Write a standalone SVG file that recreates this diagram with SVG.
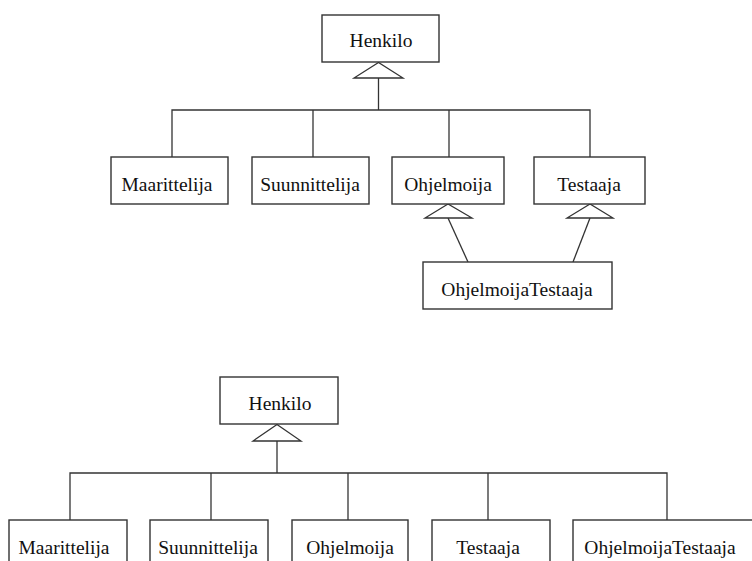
<svg xmlns="http://www.w3.org/2000/svg" width="752" height="561" viewBox="0 0 752 561">
  <style>
    .box { fill: #fff; stroke: #333; stroke-width: 1.4; }
    .lbl { font-family: "Liberation Serif", "Times New Roman", serif; font-size: 19.5px; fill: #111; text-anchor: middle; }
    .edge { fill: none; stroke: #333; stroke-width: 1.3; }
    .tri { fill: #fff; stroke: #333; stroke-width: 1.3; }
  </style>
  <rect width="752" height="561" fill="#fff"/>

  <!-- Upper model: multiple inheritance -->
  <g id="connectors-top">
    <polyline class="edge" points="378.5,78 378.5,110"/>
    <polyline class="edge" points="172,157 172,110 590,110 590,157"/>
    <line class="edge" x1="313" y1="110" x2="313" y2="157"/>
    <line class="edge" x1="449" y1="110" x2="449" y2="157"/>
    <polygon class="tri" points="378.5,62.5 354,78 403,78"/>
    <line class="edge" x1="448" y1="218" x2="468" y2="262"/>
    <line class="edge" x1="590" y1="218" x2="573" y2="262"/>
    <polygon class="tri" points="448,204 425,218 472,218"/>
    <polygon class="tri" points="590,204 567,218 613,218"/>
  </g>
  <g id="top-henkilo"><rect class="box" x="322" y="15" width="117" height="47"/><text class="lbl" x="381" y="47">Henkilo</text></g>
  <g id="top-maarittelija"><rect class="box" x="111" y="157" width="117" height="47"/><text class="lbl" x="167" y="191">Maarittelija</text></g>
  <g id="top-suunnittelija"><rect class="box" x="252" y="157" width="117" height="47"/><text class="lbl" x="310" y="191">Suunnittelija</text></g>
  <g id="top-ohjelmoija"><rect class="box" x="392" y="157" width="112" height="47"/><text class="lbl" x="448" y="191">Ohjelmoija</text></g>
  <g id="top-testaaja"><rect class="box" x="534" y="157" width="111" height="47"/><text class="lbl" x="589" y="191">Testaaja</text></g>
  <g id="top-ohjelmoijatestaaja"><rect class="box" x="423" y="262" width="189" height="47"/><text class="lbl" x="517" y="296">OhjelmoijaTestaaja</text></g>

  <!-- Lower model: single inheritance -->
  <g id="connectors-bottom">
    <polyline class="edge" points="277,441 277,473"/>
    <polyline class="edge" points="70,520 70,473 667,473 667,520"/>
    <line class="edge" x1="211" y1="473" x2="211" y2="520"/>
    <line class="edge" x1="348" y1="473" x2="348" y2="520"/>
    <line class="edge" x1="488" y1="473" x2="488" y2="520"/>
    <polygon class="tri" points="277,424.5 253,441 301,441"/>
  </g>
  <g id="bottom-henkilo"><rect class="box" x="220" y="377" width="118" height="47"/><text class="lbl" x="280" y="410">Henkilo</text></g>
  <g id="bottom-maarittelija"><rect class="box" x="9" y="520" width="118" height="47"/><text class="lbl" x="64" y="554">Maarittelija</text></g>
  <g id="bottom-suunnittelija"><rect class="box" x="150" y="520" width="118" height="47"/><text class="lbl" x="208" y="554">Suunnittelija</text></g>
  <g id="bottom-ohjelmoija"><rect class="box" x="292" y="520" width="116" height="47"/><text class="lbl" x="350" y="554">Ohjelmoija</text></g>
  <g id="bottom-testaaja"><rect class="box" x="432" y="520" width="118" height="47"/><text class="lbl" x="488" y="554">Testaaja</text></g>
  <g id="bottom-ohjelmoijatestaaja"><rect class="box" x="573" y="520" width="190" height="47"/><text class="lbl" x="660" y="554">OhjelmoijaTestaaja</text></g>
</svg>
